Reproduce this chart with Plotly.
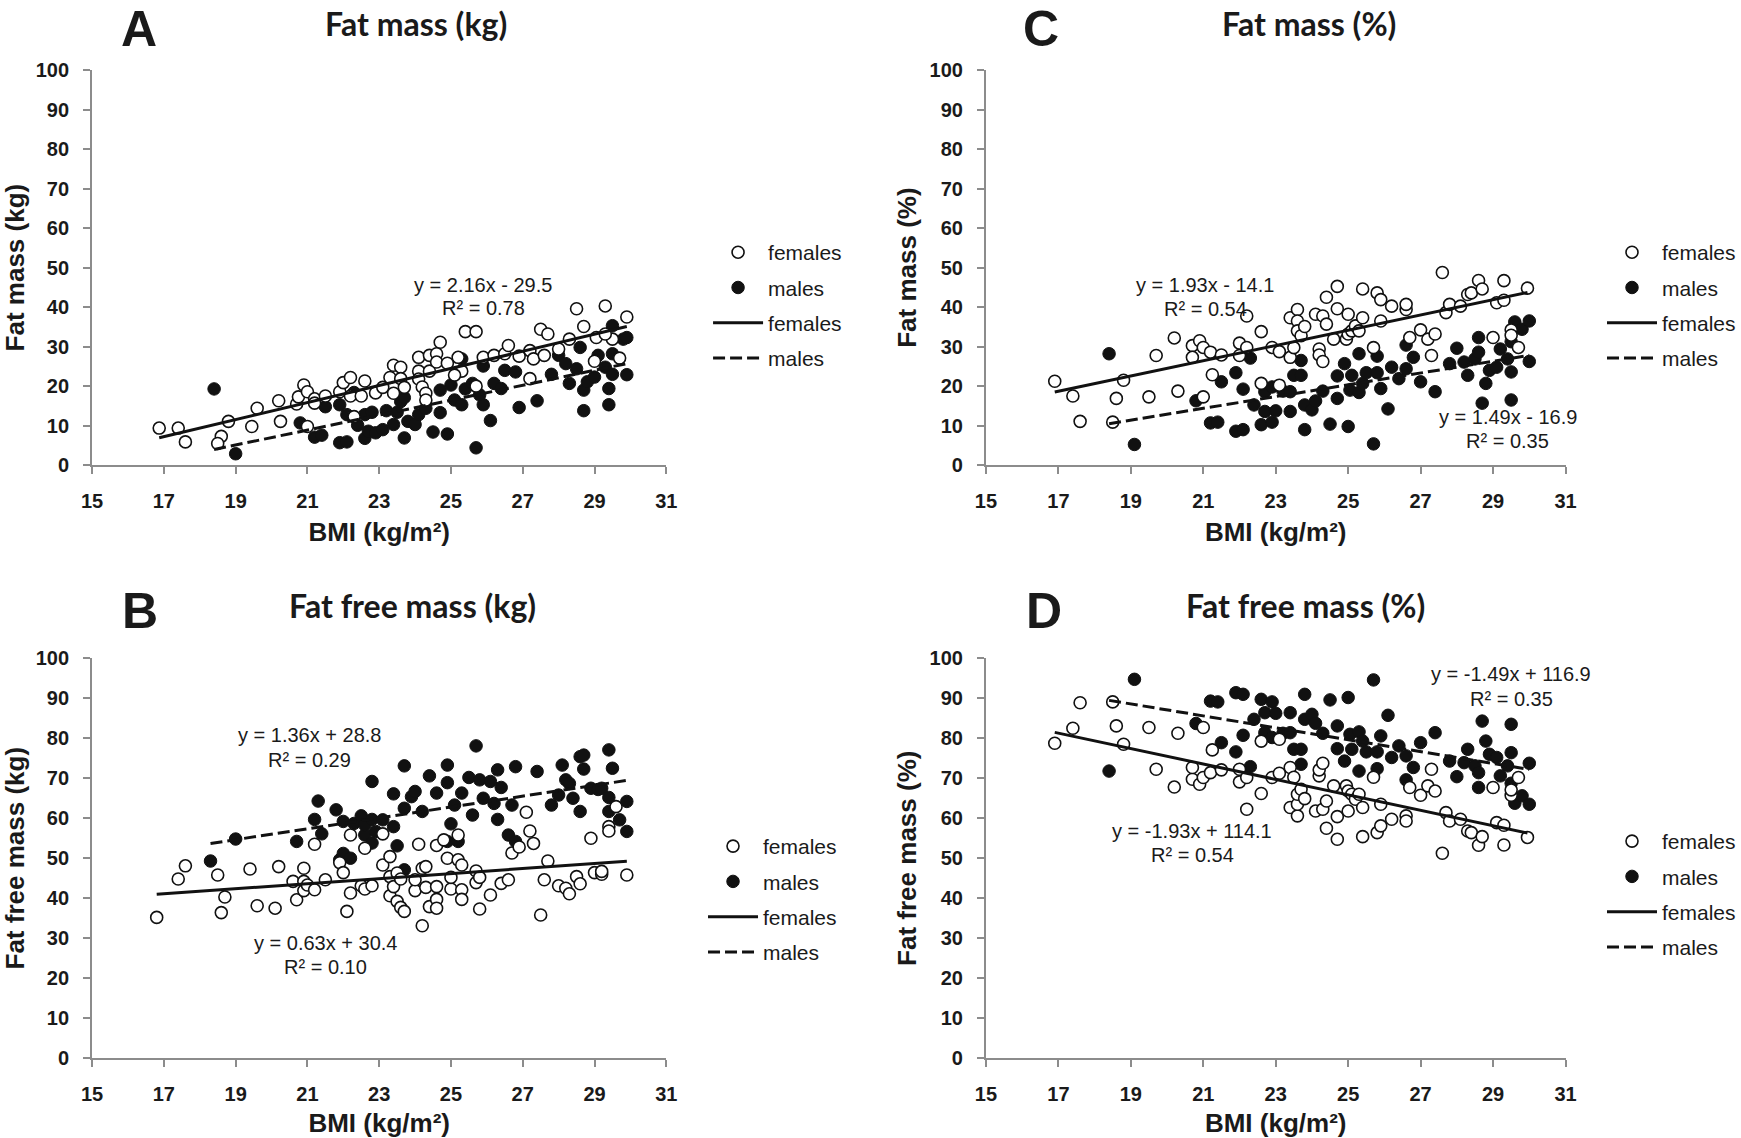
import plotly.graph_objects as go

# ---------------- data ----------------
bmi_ticks = [15, 17, 19, 21, 23, 25, 27, 29, 31]

# Panel A: Fat mass (kg)
fA_x = [16.87,17.4,17.6,18.6,18.5,18.8,19.45,19.6,20.25,20.2,20.7,20.75,20.9,21.0,21.0,21.2,21.2,21.5,21.9,22.0,
        22.2,22.2,22.5,22.6,22.9,22.3,23.1,23.4,23.6,23.3,23.4,23.6,23.7,24.1,24.1,24.1,24.2,24.3,24.3,24.4,
        24.4,24.7,24.6,24.6,24.9,25.2,25.3,25.1,25.4,25.7,25.7,25.9,26.2,26.5,26.6,26.9,27.2,27.2,27.3,27.6,
        27.5,27.7,28.0,28.3,28.5,28.7,29.05,29.3,29.0,29.5,29.7,29.9,29.3]
fA_y = [9.4,9.4,5.9,7.3,5.5,11.1,9.8,14.4,11.1,16.3,15.5,17.3,20.3,18.6,9.8,16.8,15.7,17.5,18.6,20.9,
        22.2,17.5,17.5,21.3,18.3,12.3,19.7,25.3,24.8,22.2,18.2,21.9,19.7,27.3,23.8,21.8,19.8,18.2,16.5,27.8,
        23.8,31.1,28.2,26.1,25.8,27.3,23.8,22.8,33.8,33.8,20.0,27.3,27.8,28.2,30.3,27.6,29.0,21.9,26.9,27.8,
        34.4,33.2,29.4,31.9,39.6,35.1,32.3,40.3,26.3,31.9,27.1,37.5,33.2]
mA_x = [18.4,19.0,20.8,21.2,21.4,21.5,21.9,21.9,22.1,22.1,22.3,22.4,22.6,22.6,22.7,22.8,22.9,23.1,23.2,23.4,
        23.5,23.6,23.7,23.7,23.8,24.0,24.1,24.3,24.5,24.7,24.7,24.9,25.0,25.1,25.3,25.3,25.4,25.6,25.7,25.9,
        25.9,25.8,26.1,26.2,26.4,26.5,26.8,26.9,27.4,27.8,28.0,28.2,28.3,28.5,28.6,28.7,28.7,28.8,29.0,29.1,
        29.3,29.4,29.4,29.5,29.5,29.5,29.8,29.9,29.9]
mA_y = [19.3,2.9,10.7,7.1,7.6,14.8,15.3,5.7,5.9,12.8,18.4,10.1,6.8,12.8,8.6,13.4,8.2,9.0,13.8,10.3,
        13.4,16.1,17.1,6.9,11.1,10.3,12.8,14.4,8.4,13.3,19.0,7.9,20.3,16.5,15.3,26.9,19.3,20.7,4.4,25.1,
        15.3,17.8,11.3,20.7,19.4,24.0,23.6,14.6,16.3,23.0,27.8,25.7,20.7,24.4,29.8,13.8,19.0,21.1,22.3,27.8,
        24.8,19.4,15.3,28.2,35.3,23.0,31.9,32.3,22.9]

# Panel B: Fat free mass (kg)
fB_x = [16.8,17.4,17.6,18.5,18.6,18.7,19.4,19.6,20.1,20.2,20.6,20.7,20.9,20.9,20.9,21.0,21.2,21.2,21.5,21.9,
        22.0,22.2,22.2,22.1,22.5,22.6,22.6,22.8,23.1,23.1,23.3,23.3,23.3,23.4,23.5,23.5,23.6,23.6,23.7,24.0,
        24.0,24.1,24.2,24.2,24.3,24.3,24.4,24.6,24.6,24.6,24.6,24.8,24.9,25.0,25.0,25.2,25.2,25.3,25.3,25.3,
        25.7,25.7,25.8,25.8,26.1,26.4,26.6,26.7,26.9,27.1,27.2,27.3,27.5,27.6,27.7,28.0,28.2,28.3,28.5,28.6,
        28.9,29.0,29.2,29.2,29.4,29.4,29.6,29.9]
fB_y = [35.2,44.8,48.1,45.8,36.4,40.3,47.3,38.1,37.5,47.9,44.2,39.6,44.2,47.5,41.9,43.3,53.5,42.1,44.6,48.9,
        46.4,55.8,41.3,36.7,43.1,42.3,52.5,43.1,48.3,56.1,50.4,45.4,40.6,42.9,46.3,39.2,37.7,44.8,36.7,41.9,
        44.6,53.5,47.5,33.1,47.9,42.7,37.9,39.7,42.9,37.5,53.2,54.6,50.0,42.3,45.2,49.6,55.8,48.3,42.1,39.7,
        46.8,43.9,45.2,37.3,40.8,43.7,44.6,51.3,52.8,61.5,56.8,53.7,35.8,44.6,49.3,43.1,42.5,41.1,45.4,43.6,
        55.0,46.4,46.0,46.7,57.9,56.8,62.9,45.8]
mB_x = [18.3,19.0,20.7,21.2,21.3,21.4,21.8,21.9,22.0,22.0,22.2,22.3,22.5,22.6,22.6,22.8,22.8,22.8,22.9,23.1,
        23.4,23.4,23.5,23.7,23.7,23.7,23.9,24.0,24.2,24.4,24.6,24.9,24.9,24.9,25.0,25.1,25.2,25.3,25.5,25.6,
        25.7,25.8,25.9,26.1,26.2,26.3,26.3,26.4,26.6,26.7,26.8,26.8,27.4,27.8,28.0,28.1,28.2,28.3,28.4,28.6,
        28.6,28.7,28.7,28.9,29.1,29.2,29.4,29.4,29.5,29.4,29.7,29.9,29.9]
mB_y = [49.3,54.8,54.2,59.7,64.3,56.1,62.1,49.6,51.2,59.2,50.0,58.7,60.6,55.8,58.3,53.8,69.2,59.7,56.7,59.6,
        66.1,57.9,53.1,73.1,62.5,47.1,65.4,66.7,61.7,70.6,66.3,73.3,68.9,54.2,58.6,63.3,54.2,66.3,70.2,60.8,
        78.1,69.6,65.0,69.2,63.7,59.7,72.1,67.7,55.8,63.3,72.9,54.2,71.7,63.3,65.8,73.3,69.6,68.7,65.0,61.7,
        75.4,75.8,72.3,67.5,67.2,67.5,65.2,77.1,72.5,61.7,59.6,64.2,56.7]

# Panel C: Fat mass (%)
fC_x = [16.9,17.4,17.6,18.6,18.8,18.5,19.5,19.7,20.3,20.2,21.0,21.25,20.7,20.9,20.7,21.0,21.2,21.5,22.0,22.0,
        22.2,22.2,22.6,22.6,22.9,23.1,23.1,23.4,23.4,23.5,23.6,23.6,23.6,23.7,23.8,24.1,24.2,24.3,24.2,24.3,
        24.4,24.4,24.7,24.6,24.7,24.95,25.0,25.0,25.1,25.2,25.3,25.4,25.4,25.7,25.8,25.9,25.9,26.2,26.6,26.6,
        26.7,27.0,27.2,27.3,27.4,27.6,27.7,27.8,28.1,28.3,28.4,28.6,28.7,29.0,29.1,29.3,29.3,29.5,29.5,29.7,
        29.95]
fC_y = [21.25,17.5,11.1,16.9,21.5,10.9,17.3,27.75,18.75,32.2,17.3,22.9,30.25,31.5,27.3,29.8,28.6,27.9,27.75,30.9,
        37.75,29.8,33.8,20.7,29.8,28.75,20.25,27.3,37.3,29.75,39.4,36.5,34.0,32.75,35.1,38.2,29.4,37.75,27.9,26.25,
        35.7,42.5,45.25,31.9,39.6,31.9,38.2,33.2,34.0,35.25,34.0,37.3,44.6,29.75,43.6,41.9,36.5,40.25,39.4,40.7,
        32.3,34.25,31.9,27.75,33.2,48.75,38.6,40.7,40.25,43.2,43.6,46.75,44.6,32.3,41.1,46.7,41.75,34.25,32.9,29.8,
        44.8]
mC_x = [18.4,19.1,20.8,21.2,21.4,21.5,21.9,21.9,22.1,22.1,22.3,22.4,22.6,22.7,22.7,22.9,22.9,23.0,23.2,23.4,
        23.4,23.5,23.7,23.7,23.8,23.8,24.0,24.1,24.3,24.5,24.7,24.7,25.0,24.9,25.05,25.1,25.3,25.3,25.4,25.5,
        25.7,25.8,25.8,25.9,26.1,26.2,26.4,26.6,26.6,26.8,27.0,27.4,27.8,28.0,28.2,28.3,28.5,28.6,28.6,28.7,
        28.8,28.9,29.1,29.2,29.4,29.5,29.5,29.5,29.6,29.8,30.0,30.0]
mC_y = [28.2,5.25,16.3,10.7,10.9,21.1,23.4,8.6,9.0,19.25,27.1,15.25,10.25,18.6,13.6,10.9,19.8,13.75,18.75,18.6,
        13.6,22.75,22.75,26.5,9.0,15.25,14.0,16.25,18.75,10.4,16.9,22.6,9.8,25.7,19.0,22.75,28.2,18.4,20.7,23.4,
        5.4,23.4,27.6,19.4,14.25,24.8,21.9,24.4,30.4,27.3,21.1,18.6,25.7,29.6,26.1,22.75,26.9,32.3,28.6,15.7,
        20.7,24.0,24.8,29.4,26.9,23.6,16.5,31.25,36.25,34.4,36.5,26.25]

# Panel D: Fat free mass (%)
fD_x = fC_x
fD_y = [78.75,82.5,88.9,83.1,78.5,89.1,82.7,72.25,81.25,67.8,82.7,77.1,69.75,68.5,72.7,70.2,71.4,72.1,72.25,69.1,
        62.25,70.2,66.2,79.3,70.2,71.25,79.75,72.7,62.7,70.25,60.6,63.5,66.0,67.25,64.9,61.8,70.6,62.25,72.1,73.75,
        64.3,57.5,54.75,68.1,60.4,68.1,61.8,66.8,66.0,64.75,66.0,62.7,55.4,70.25,56.4,58.1,63.5,59.75,60.6,59.3,
        67.7,65.75,68.1,72.25,66.8,51.25,61.4,59.3,59.75,56.8,56.4,53.25,55.4,67.7,58.9,53.3,58.25,65.75,67.1,70.2,
        55.2]
mD_x = mC_x
mD_y = [71.8,94.75,83.7,89.3,89.1,78.9,76.6,91.4,91.0,80.75,72.9,84.75,89.75,81.4,86.4,89.1,80.2,86.25,81.25,81.4,
        86.4,77.25,77.25,73.5,91.0,84.75,86.0,83.75,81.25,89.6,83.1,77.4,90.2,74.3,81.0,77.25,71.8,81.6,79.3,76.6,
        94.6,76.6,72.4,80.6,85.75,75.2,78.1,75.6,69.6,72.7,78.9,81.4,74.3,70.4,73.9,77.25,73.1,67.7,71.4,84.3,
        79.3,76.0,75.2,70.6,73.1,76.4,83.5,68.75,63.75,65.6,63.5,73.75]

# trendline coefficients (slope, intercept) as printed on the chart
fit_f = {"A": (2.16, -29.5), "B": (0.63, 30.4), "C": (1.93, -14.1), "D": (-1.93, 114.1)}
fit_m = {"A": (1.89, -30.8), "B": (1.36, 28.8), "C": (1.49, -16.9), "D": (-1.49, 116.9)}

titles = {"A": "Fat mass (kg)", "B": "Fat free mass (kg)", "C": "Fat mass (%)", "D": "Fat free mass (%)"}
ytitles = {"A": "Fat mass (kg)", "B": "Fat free mass (kg)", "C": "Fat mass (%)", "D": "Fat free mass (%)"}
eq_text = {
    "A": [("y = 2.16x - 29.5", "R² = 0.78"), ("y = 1.89x - 30.8", "R² = 0.54")],
    "B": [("y = 0.63x + 30.4", "R² = 0.10"), ("y = 1.36x + 28.8", "R² = 0.29")],
    "C": [("y = 1.93x - 14.1", "R² = 0.54"), ("y = 1.49x - 16.9", "R² = 0.35")],
    "D": [("y = -1.93x + 114.1", "R² = 0.54"), ("y = -1.49x + 116.9", "R² = 0.35")],
}
# label anchor positions in data units (x, y of equation line, y of R² line)
eq_pos = {
    "A": [(25.9, 45.7, 39.7), (31.9, 11.9, 6.1)],
    "B": [(21.5, 28.7, 22.9), (21.05, 80.8, 74.6)],
    "C": [(21.05, 45.7, 39.5), (29.4, 12.3, 6.2)],
    "D": [(20.7, 56.8, 50.8), (29.5, 96.2, 89.8)],
}

data = {
    "A": (fA_x, fA_y, mA_x, mA_y),
    "B": (fB_x, fB_y, mB_x, mB_y),
    "C": (fC_x, fC_y, mC_x, mC_y),
    "D": (fD_x, fD_y, mD_x, mD_y),
}

# ---------------- layout geometry ----------------
W, H = 1741, 1138
xdom = {"A": [0.0529, 0.3827], "B": [0.0529, 0.3827], "C": [0.5663, 0.8992], "D": [0.5663, 0.8992]}
ydom = {"A": [0.5912, 0.9385], "C": [0.5912, 0.9385], "B": [0.0702, 0.4215], "D": [0.0702, 0.4215]}
axn = {"A": "", "B": "2", "C": "3", "D": "4"}
leg = {"A": "legend", "B": "legend2", "C": "legend3", "D": "legend4"}
# (x, y, xanchor)
leg_pos = {"A": (0.4067, 0.7961, "left"), "B": (0.4038, 0.2742, "left"),
           "C": (1.0, 0.7961, "right"), "D": (1.0, 0.2786, "right")}
title_pos = {"A": (0.239, 0.979), "B": (0.237, 0.4675), "C": (0.752, 0.979), "D": (0.750, 0.4675)}
letter_pos = {"A": (0.0798, 1.0, "top"), "B": (0.0804, 0.4635, "middle"),
              "C": (0.598, 1.0, "top"), "D": (0.5997, 0.4635, "middle")}

AX = "#8c8c8c"
TXT = "#1a1a1a"
ARIAL = "Liberation Sans, Arial, sans-serif"
CALI = "Lato, Open Sans, sans-serif"

fig = go.Figure()
annotations = []
layout = {}

for p in ["A", "B", "C", "D"]:
    fx, fy, mx, my = data[p]
    n = axn[p]
    xr, yr = "x" + n, "y" + n
    lg = leg[p]
    # males (filled) first so open female circles sit on top
    fig.add_trace(go.Scatter(x=mx, y=my, mode="markers", name="males", xaxis=xr, yaxis=yr,
                             legend=lg, legendgroup=p + "m", legendrank=2,
                             marker=dict(size=12.5, color="#111111", line=dict(color="#111111", width=1))))
    fig.add_trace(go.Scatter(x=fx, y=fy, mode="markers", name="females", xaxis=xr, yaxis=yr,
                             legend=lg, legendgroup=p + "f", legendrank=1,
                             marker=dict(size=12, color="white", line=dict(color="#111111", width=1.6))))
    a, b = fit_f[p]
    x0, x1 = min(fx), max(fx)
    fig.add_trace(go.Scatter(x=[x0, x1], y=[a * x0 + b, a * x1 + b], mode="lines", name="females",
                             xaxis=xr, yaxis=yr, legend=lg, legendgroup=p + "fl", legendrank=3,
                             line=dict(color="#111111", width=3)))
    a, b = fit_m[p]
    x0, x1 = min(mx), max(mx)
    fig.add_trace(go.Scatter(x=[x0, x1], y=[a * x0 + b, a * x1 + b], mode="lines", name="males",
                             xaxis=xr, yaxis=yr, legend=lg, legendgroup=p + "ml", legendrank=4,
                             line=dict(color="#111111", width=3, dash="12px,5px")))

    layout["xaxis" + n] = dict(
        domain=xdom[p], anchor=yr, range=[15, 31], tickvals=bmi_ticks, automargin=False,
        showgrid=False, zeroline=False, showline=True, linecolor=AX, linewidth=2,
        ticks="outside", ticklen=7, tickwidth=2, tickcolor=AX, ticklabelstandoff=10,
        tickfont=dict(family=ARIAL, size=20, color=TXT, weight="bold"),
        title=dict(text="BMI (kg/m²)", standoff=12,
                   font=dict(family=ARIAL, size=26, color=TXT, weight="bold")),
    )
    layout["yaxis" + n] = dict(
        domain=ydom[p], anchor=xr, range=[0, 100], dtick=10, automargin=False,
        showgrid=False, zeroline=False, showline=True, linecolor=AX, linewidth=2,
        ticks="outside", ticklen=7, tickwidth=2, tickcolor=AX, ticklabelstandoff=10,
        tickfont=dict(family=ARIAL, size=20, color=TXT, weight="bold"),
        title=dict(text=ytitles[p], standoff=5,
                   font=dict(family=ARIAL, size=26, color=TXT, weight="bold")),
    )
    layout[lg] = dict(
        x=leg_pos[p][0], y=leg_pos[p][1], xanchor=leg_pos[p][2], yanchor="top",
        bgcolor="rgba(0,0,0,0)", tracegroupgap=5, itemwidth=50,
        font=dict(family=ARIAL, size=21, color=TXT),
    )

    # panel title and letter
    annotations.append(dict(text=titles[p], x=title_pos[p][0], y=title_pos[p][1], xref="paper", yref="paper",
                            xanchor="center", yanchor="middle", showarrow=False,
                            font=dict(family=CALI, size=32, color=TXT, weight="bold")))
    annotations.append(dict(text=p, x=letter_pos[p][0], y=letter_pos[p][1], xref="paper", yref="paper",
                            xanchor="center", yanchor=letter_pos[p][2], showarrow=False, borderpad=0,
                            font=dict(family=ARIAL, size=50, color=TXT, weight="bold")))
    # trendline equations
    for (eq, r2), (ex, ey, ry) in zip(eq_text[p], eq_pos[p]):
        annotations.append(dict(text=eq, x=ex, y=ey, xref=xr, yref=yr, showarrow=False,
                                xanchor="center", yanchor="middle",
                                font=dict(family=ARIAL, size=20, color=TXT)))
        annotations.append(dict(text=r2, x=ex, y=ry, xref=xr, yref=yr, showarrow=False,
                                xanchor="center", yanchor="middle",
                                font=dict(family=ARIAL, size=20, color=TXT)))

fig.update_layout(
    width=W, height=H, autosize=False,
    margin=dict(l=0, r=0, t=0, b=0, autoexpand=False),
    paper_bgcolor="white", plot_bgcolor="white",
    annotations=annotations,
    **layout,
)

fig.write_html("out.html",
               config={"displayModeBar": False},
               post_script="document.body.style.margin='0px';document.body.style.overflow='hidden';")
